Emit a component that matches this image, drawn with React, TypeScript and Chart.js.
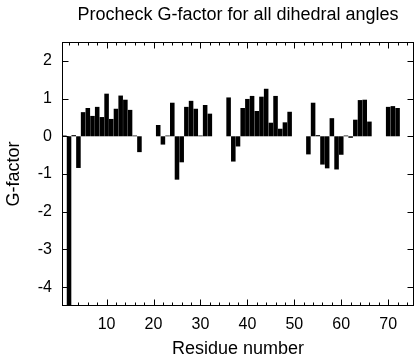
import React, { useEffect, useRef } from "react";
import { Chart, registerables } from "chart.js";

Chart.register(...registerables);

// G-factor per residue (index 0 = residue 1); null = residue not plotted
const gFactor: (number | null)[] = [
  0.02, -4.9, 0.03, -0.84, 0.64, 0.75, 0.54, 0.78, 0.51, 1.13,
  0.46, 0.73, 1.08, 0.97, 0.70, 0.02, -0.42, null, null, null,
  0.30, -0.22, 0.02, 0.89, -1.15, -0.69, 0.78, 0.94, 0.73, 0.02,
  0.83, 0.60, null, null, null, 1.03, -0.67, -0.27, 0.75, 0.99,
  1.07, 0.67, 1.05, 1.26, 0.36, 1.07, 0.20, 0.37, 0.65, null,
  null, null, -0.48, 0.89, 0.03, -0.75, -0.85, 0.48, -0.88, -0.49,
  0.02, -0.04, 0.44, 0.96, 0.97, 0.39, null, null, null, 0.78,
  0.80, 0.75,
];
const residues: number[] = gFactor.map((_, i) => i + 1);

const xTickLabels: number[] = [10, 20, 30, 40, 50, 60, 70];
const xMinorTicks: number[] = [
  2, 4, 6, 8, 12, 14, 16, 18, 22, 24, 26, 28, 32, 34, 36, 38, 42, 44, 46, 48,
  52, 54, 56, 58, 62, 64, 66, 68, 72, 74,
];
const yTickLabels: number[] = [-4, -3, -2, -1, 0, 1, 2];

const X_MIN = 0.5;
const X_MAX = 75.5;
const Y_MIN = -4.5;
const Y_MAX = 2.5;

const FONT = "'Liberation Sans', Arial, Helvetica, sans-serif";

const framePlugin = {
  id: "frameTicks",
  afterDatasetsDraw(chart: any) {
    const { ctx, chartArea, scales } = chart;
    const { left, right, top, bottom } = chartArea;
    const xs = scales.x;
    const ys = scales.y;
    ctx.save();
    ctx.strokeStyle = "#000";
    ctx.lineWidth = 1;
    const L = Math.round(left) + 0.5;
    const R = Math.round(right) - 0.5;
    const T = Math.round(top) + 0.5;
    const B = Math.round(bottom) - 0.5;
    ctx.strokeRect(L, T, R - L, B - T);
    ctx.beginPath();
    const tickX = (v: number, len: number) => {
      const px = Math.round(xs.getPixelForValue(v)) + 0.5;
      ctx.moveTo(px, B);
      ctx.lineTo(px, B - len);
      ctx.moveTo(px, T);
      ctx.lineTo(px, T + len);
    };
    xTickLabels.forEach((v) => tickX(v, 6));
    xMinorTicks.forEach((v) => tickX(v, 3));
    yTickLabels.forEach((v) => {
      const py = Math.round(ys.getPixelForValue(v)) + 0.5;
      ctx.moveTo(L, py);
      ctx.lineTo(L + 6, py);
      ctx.moveTo(R, py);
      ctx.lineTo(R - 6, py);
    });
    ctx.stroke();
    ctx.restore();
  },
};

export default function App() {
  const canvasRef = useRef<HTMLCanvasElement | null>(null);

  useEffect(() => {
    const canvas = canvasRef.current;
    if (!canvas) return;
    const data = residues
      .map((r, i) => ({ x: r, y: gFactor[i] }))
      .filter((p) => p.y !== null);
    const chart = new Chart(canvas, {
      type: "bar",
      data: {
        datasets: [
          {
            data: data as any,
            backgroundColor: "#000",
            borderWidth: 0,
            barPercentage: 0.97,
            categoryPercentage: 1,
          },
        ],
      },
      options: {
        animation: false,
        responsive: false,
        maintainAspectRatio: false,
        devicePixelRatio: 1,
        layout: { padding: { left: 0, right: 2, top: 0, bottom: 0 } },
        plugins: {
          legend: { display: false },
          tooltip: { enabled: false },
          title: {
            display: true,
            text: "Procheck G-factor for all dihedral angles",
            color: "#000",
            fullSize: false,
            font: { family: FONT, size: 18, weight: "normal" },
            padding: { top: 4.2, bottom: 16.2 },
          },
        },
        scales: {
          x: {
            type: "linear",
            min: X_MIN,
            max: X_MAX,
            offset: false,
            grid: { display: false, drawTicks: false },
            border: { display: false },
            afterBuildTicks: (scale: any) => {
              scale.ticks = xTickLabels.map((v) => ({ value: v }));
            },
            afterFit: (scale: any) => {
              scale.height = 54;
            },
            ticks: {
              color: "#000",
              padding: 9,
              maxRotation: 0,
              autoSkip: false,
              font: { family: FONT, size: 16 },
            },
            title: {
              display: true,
              text: "Residue number",
              color: "#000",
              font: { family: FONT, size: 18 },
              padding: { top: 0, bottom: 0 },
            },
          },
          y: {
            type: "linear",
            min: Y_MIN,
            max: Y_MAX,
            grid: { display: false, drawTicks: false },
            border: { display: false },
            afterBuildTicks: (scale: any) => {
              scale.ticks = yTickLabels.map((v) => ({ value: v }));
            },
            afterFit: (scale: any) => {
              scale.width = 62;
            },
            ticks: {
              color: "#000",
              padding: 10,
              autoSkip: false,
              font: { family: FONT, size: 16 },
            },
            title: {
              display: true,
              text: "G-factor",
              color: "#000",
              font: { family: FONT, size: 18 },
              padding: { top: 3, bottom: 0 },
            },
          },
        },
      },
      plugins: [framePlugin],
    });
    return () => chart.destroy();
  }, []);

  return (
    <div style={{ position: "absolute", left: 0, top: 0, width: 416, height: 360, background: "#fff" }}>
      <canvas ref={canvasRef} width={416} height={360} />
    </div>
  );
}
